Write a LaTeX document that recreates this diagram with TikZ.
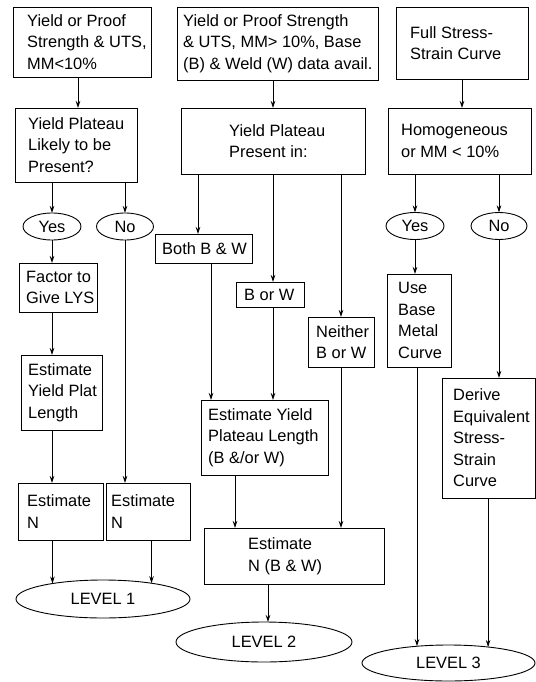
\documentclass[tikz,border=0pt]{standalone}
\usepackage{fontspec}
\setmainfont{Liberation Sans}
\usetikzlibrary{shapes.geometric,arrows.meta,calc}
\newcommand\myfs{\fontsize{16.4}{21.5}\selectfont}
\tikzset{
 box/.style={draw, line width=0.9pt, inner sep=0pt, outer sep=0pt},
 txt/.style={anchor=west, align=left, inner sep=0pt, font=\myfs},
 oval/.style={draw, ellipse, line width=0.9pt, inner sep=0pt, outer sep=0pt, font=\myfs},
 arr/.style={line width=0.9pt, -{Stealth[length=7pt,width=4.5pt]}},
}
\newcommand\mybox[7]{%
 \pgfmathsetmacro\mbw{#4-#2}\pgfmathsetmacro\mbh{#5-#3}%
 \pgfmathsetmacro\mbx{(#2+#4)/2}\pgfmathsetmacro\mby{(#3+#5)/2}%
 \node[box, minimum width=\mbw pt, minimum height=\mbh pt] (#1) at (\mbx,\mby) {};%
 \node[txt] (#1t) at ([xshift=#6pt]#1.west) {#7};}
\begin{document}
\begin{tikzpicture}[x=1pt,y=-1pt]
\useasboundingbox (0,0) rectangle (535,682);
% column A
\mybox{A1}{13}{7}{151}{77}{14}{Yield or Proof\\Strength \& UTS,\\MM<10\%}
\mybox{A2}{15}{108}{137}{182}{13}{Yield Plateau\\Likely to be\\Present?}
\node[oval, minimum width=58pt, minimum height=27pt] (Y1) at (52,226.5) {Yes};
\node[oval, minimum width=57pt, minimum height=27pt] (N1) at (125,226.5) {No};
\mybox{A3}{19}{263}{97}{312}{7}{Factor to\\Give LYS}
\mybox{A4}{21}{355}{102}{430}{7}{Estimate\\Yield Plat\\Length}
\mybox{A5}{18}{483}{103}{540}{9}{Estimate\\N}
\mybox{A6}{106}{483}{190}{540}{5}{Estimate\\N}
\node[oval, minimum width=174pt, minimum height=38pt] (L1) at (103,599) {LEVEL 1};
% column B
\mybox{B1}{177}{7}{378}{80}{6}{Yield or Proof Strength\\\& UTS, MM> 10\%, Base\\(B) \& Weld (W) data avail.}
\mybox{B2}{181}{108}{365}{174}{48}{Yield Plateau\\Present in:}
\mybox{B3}{155}{234}{252}{263}{7}{Both B \& W}
\mybox{B4}{236}{282}{304}{307}{8}{B or W}
\mybox{B6}{308}{317}{374}{367}{8}{Neither\\B or W}
\mybox{B5}{201}{400}{328}{475}{7}{Estimate Yield\\Plateau Length\\(B \&/or W)}
\mybox{B7}{204}{528}{384}{584}{44}{Estimate\\N (B \& W)}
\node[oval, minimum width=176pt, minimum height=40pt] (L2) at (264,642) {LEVEL 2};
% column C
\mybox{C1}{396}{7}{528}{79}{14}{Full Stress-\\Strain Curve}
\mybox{C2}{388}{108}{531}{174}{13}{Homogeneous\\or MM < 10\%}
\node[oval, minimum width=58pt, minimum height=27pt] (Y3) at (415,226) {Yes};
\node[oval, minimum width=56pt, minimum height=27pt] (N3) at (499,226) {No};
\mybox{C3}{387}{274}{451}{367}{11}{Use\\Base\\Metal\\Curve}
\mybox{C4}{442}{378}{535}{498}{11}{Derive\\Equivalent\\Stress-\\Strain\\Curve}
\node[oval, minimum width=173pt, minimum height=36pt] (L3) at (448.5,663) {LEVEL 3};
% connectors A
\draw[arr] ([xshift=-4pt]A1.south) -- ([xshift=-4pt]A1.south |- A2.north);
\draw[arr] (Y1.north |- A2.south) -- (Y1.north);
\draw[arr] (N1.north |- A2.south) -- (N1.north);
\draw[arr] (Y1.south) -- (Y1.south |- A3.north);
\draw[arr] (Y1.south |- A3.south) -- (Y1.south |- A4.north);
\draw[arr] (Y1.south |- A4.south) -- (Y1.south |- A5.north);
\draw[arr] (N1.south) -- (N1.south |- A6.north);
\draw[arr] (L1.163 |- A5.south) -- (L1.163);
\draw[arr] (L1.18 |- A6.south) -- (L1.18);
% connectors B
\draw[arr] (B2.north |- B1.south) -- (B2.north);
\draw[arr] ([xshift=17pt]B2.south west) -- ([xshift=17pt]B2.south west |- B3.north);
\draw[arr] (B2.south) -- (B2.south |- B4.north);
\draw[arr] (B6.north |- B2.south) -- (B6.north);
\draw[arr] ([xshift=10pt]B5.north west |- B3.south) -- ([xshift=10pt]B5.north west);
\draw[arr] (B2.south |- B4.south) -- (B2.south |- B5.north);
\draw[arr] (B6.south) -- (B6.south |- B7.north);
\draw[arr] ([xshift=34pt]B5.south west) -- ([xshift=34pt]B5.south west |- B7.north);
\draw[arr] ([xshift=4pt]L2.north |- B7.south) -- ([xshift=4pt]L2.north);
% connectors C
\draw[arr] (C1.south) -- (C1.south |- C2.north);
\draw[arr] (Y3.north |- C2.south) -- (Y3.north);
\draw[arr] (N3.north |- C2.south) -- (N3.north);
\draw[arr] (Y3.south) -- (Y3.south |- C3.north);
\draw[arr] (N3.south) -- (N3.south |- C4.north);
\draw[arr] (L3.152 |- C3.south) -- (L3.152);
\draw[arr] (L3.22 |- C4.south) -- (L3.22);
\end{tikzpicture}
\end{document}
